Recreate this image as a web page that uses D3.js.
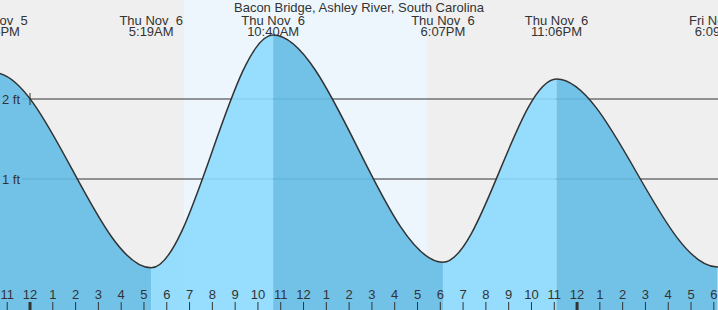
<!DOCTYPE html>
<html>
<head>
<meta charset="utf-8">
<script src="https://cdn.jsdelivr.net/npm/d3@7"></script>
<style>
  body { margin: 0; background: #efefef; }
  svg { display: block; font-family: "Liberation Sans", Arial, sans-serif; }
  text { white-space: pre; fill: #333; }
</style>
</head>
<body>
<div id="chart"></div>
<script>
  // tide events (high / low)
  var eventTimes = ["2025-11-05 16:05", "2025-11-05 22:25", "2025-11-06 05:19", "2025-11-06 10:40",
                    "2025-11-06 18:07", "2025-11-06 23:06", "2025-11-07 06:09", "2025-11-07 11:45"];
  var eventHeights = [-0.05, 2.33, -0.11, 2.80, -0.04, 2.25, -0.10, 2.70];

  // daylight
  var sunrise = "2025-11-06 06:45";
  var sunset = "2025-11-06 17:25";

  var feetTicks = [1, 2];
  var title = "Bacon Bridge, Ashley River, South Carolina";

  var width = 718, height = 310;
  var parse = d3.timeParse("%Y-%m-%d %H:%M");

  var events = eventTimes.map(function(t, i) {
    return { date: parse(t), h: eventHeights[i] };
  });

  var x = d3.scaleTime()
    .domain([parse("2025-11-05 22:41"), parse("2025-11-07 06:11")])
    .range([0, width]);
  var y = d3.scaleLinear()
    .domain([0, 2])
    .range([259, 99]);

  var svg = d3.select("#chart")
    .append("svg")
    .attr("width", width)
    .attr("height", height);

  // night background + daylight band
  svg.append("rect")
    .attr("width", width).attr("height", height)
    .attr("fill", "#efefef");
  svg.append("rect")
    .attr("x", x(parse(sunrise)))
    .attr("width", x(parse(sunset)) - x(parse(sunrise)))
    .attr("height", height)
    .attr("fill", "#eef6fd");

  // grid lines (under the fill, shows faintly through it)
  svg.selectAll(".grid")
    .data(feetTicks)
    .enter()
    .append("line")
    .attr("x1", 22).attr("x2", width)
    .attr("y1", d => y(d)).attr("y2", d => y(d))
    .attr("stroke", "#333")
    .attr("stroke-width", 1);

  var area = d3.area()
    .x(d => x(d.date))
    .y0(height)
    .y1(d => y(d.h))
    .curve(d3.curveMonotoneX);
  var line = d3.line()
    .x(d => x(d.date))
    .y(d => y(d.h))
    .curve(d3.curveMonotoneX);

  // one clip per rising / falling stretch
  var defs = svg.append("defs");
  for (var i = 0; i < events.length - 1; i++) {
    var x0 = x(events[i].date), x1 = x(events[i + 1].date);
    defs.append("clipPath")
      .attr("id", "seg" + i)
      .append("rect")
      .attr("x", x0).attr("y", 0)
      .attr("width", x1 - x0).attr("height", height);
    svg.append("path")
      .datum(events)
      .attr("d", area)
      .attr("clip-path", "url(#seg" + i + ")")
      .attr("fill", events[i + 1].h > events[i].h ? "#8cdafe" : "#64bce5")
      .attr("fill-opacity", 0.9);
  }

  svg.append("path")
    .datum(events)
    .attr("d", line)
    .attr("fill", "none")
    .attr("stroke", "#333")
    .attr("stroke-width", 1.5);

  // little marker at midnight on the 2 ft line
  svg.append("line")
    .attr("x1", x(parse("2025-11-06 00:00"))).attr("x2", x(parse("2025-11-06 00:00")))
    .attr("y1", y(2) - 6).attr("y2", y(2) + 6)
    .attr("stroke", "#333");

  // y labels
  svg.selectAll(".ylab")
    .data(feetTicks)
    .enter()
    .append("text")
    .attr("x", 2)
    .attr("y", d => y(d))
    .attr("dy", "0.35em")
    .style("font-size", "13px")
    .text(d => d + " ft");

  // hour ticks along the bottom
  var hours = x.ticks(d3.timeHour.every(1));
  svg.selectAll(".htick")
    .data(hours)
    .enter()
    .append("line")
    .attr("x1", d => x(d)).attr("x2", d => x(d))
    .attr("y1", 302).attr("y2", height)
    .attr("stroke", "#333")
    .attr("stroke-width", d => d.getHours() === 0 ? 3 : 1);
  svg.selectAll(".hlab")
    .data(hours)
    .enter()
    .append("text")
    .attr("x", d => x(d))
    .attr("y", 299)
    .attr("text-anchor", "middle")
    .style("font-size", "13px")
    .text(d3.timeFormat("%-I"));

  // title and event labels
  svg.append("text")
    .attr("x", 359).attr("y", 12)
    .attr("text-anchor", "middle")
    .style("font-size", "13px")
    .text(title);

  var fmtDay = d3.timeFormat("%a %b %e");
  var fmtTime = d3.timeFormat("%-I:%M%p");
  var shown = events.filter(d => x(d.date) > -40 && x(d.date) < width + 40);
  var labs = svg.selectAll(".evlab")
    .data(shown)
    .enter()
    .append("g")
    .attr("transform", d => "translate(" + x(d.date) + ",0)");
  labs.append("text")
    .attr("y", 25)
    .attr("text-anchor", "middle")
    .style("font-size", "13px")
    .text(d => fmtDay(d.date));
  labs.append("text")
    .attr("y", 36)
    .attr("text-anchor", "middle")
    .style("font-size", "13px")
    .text(d => fmtTime(d.date));
</script>
</body>
</html>
